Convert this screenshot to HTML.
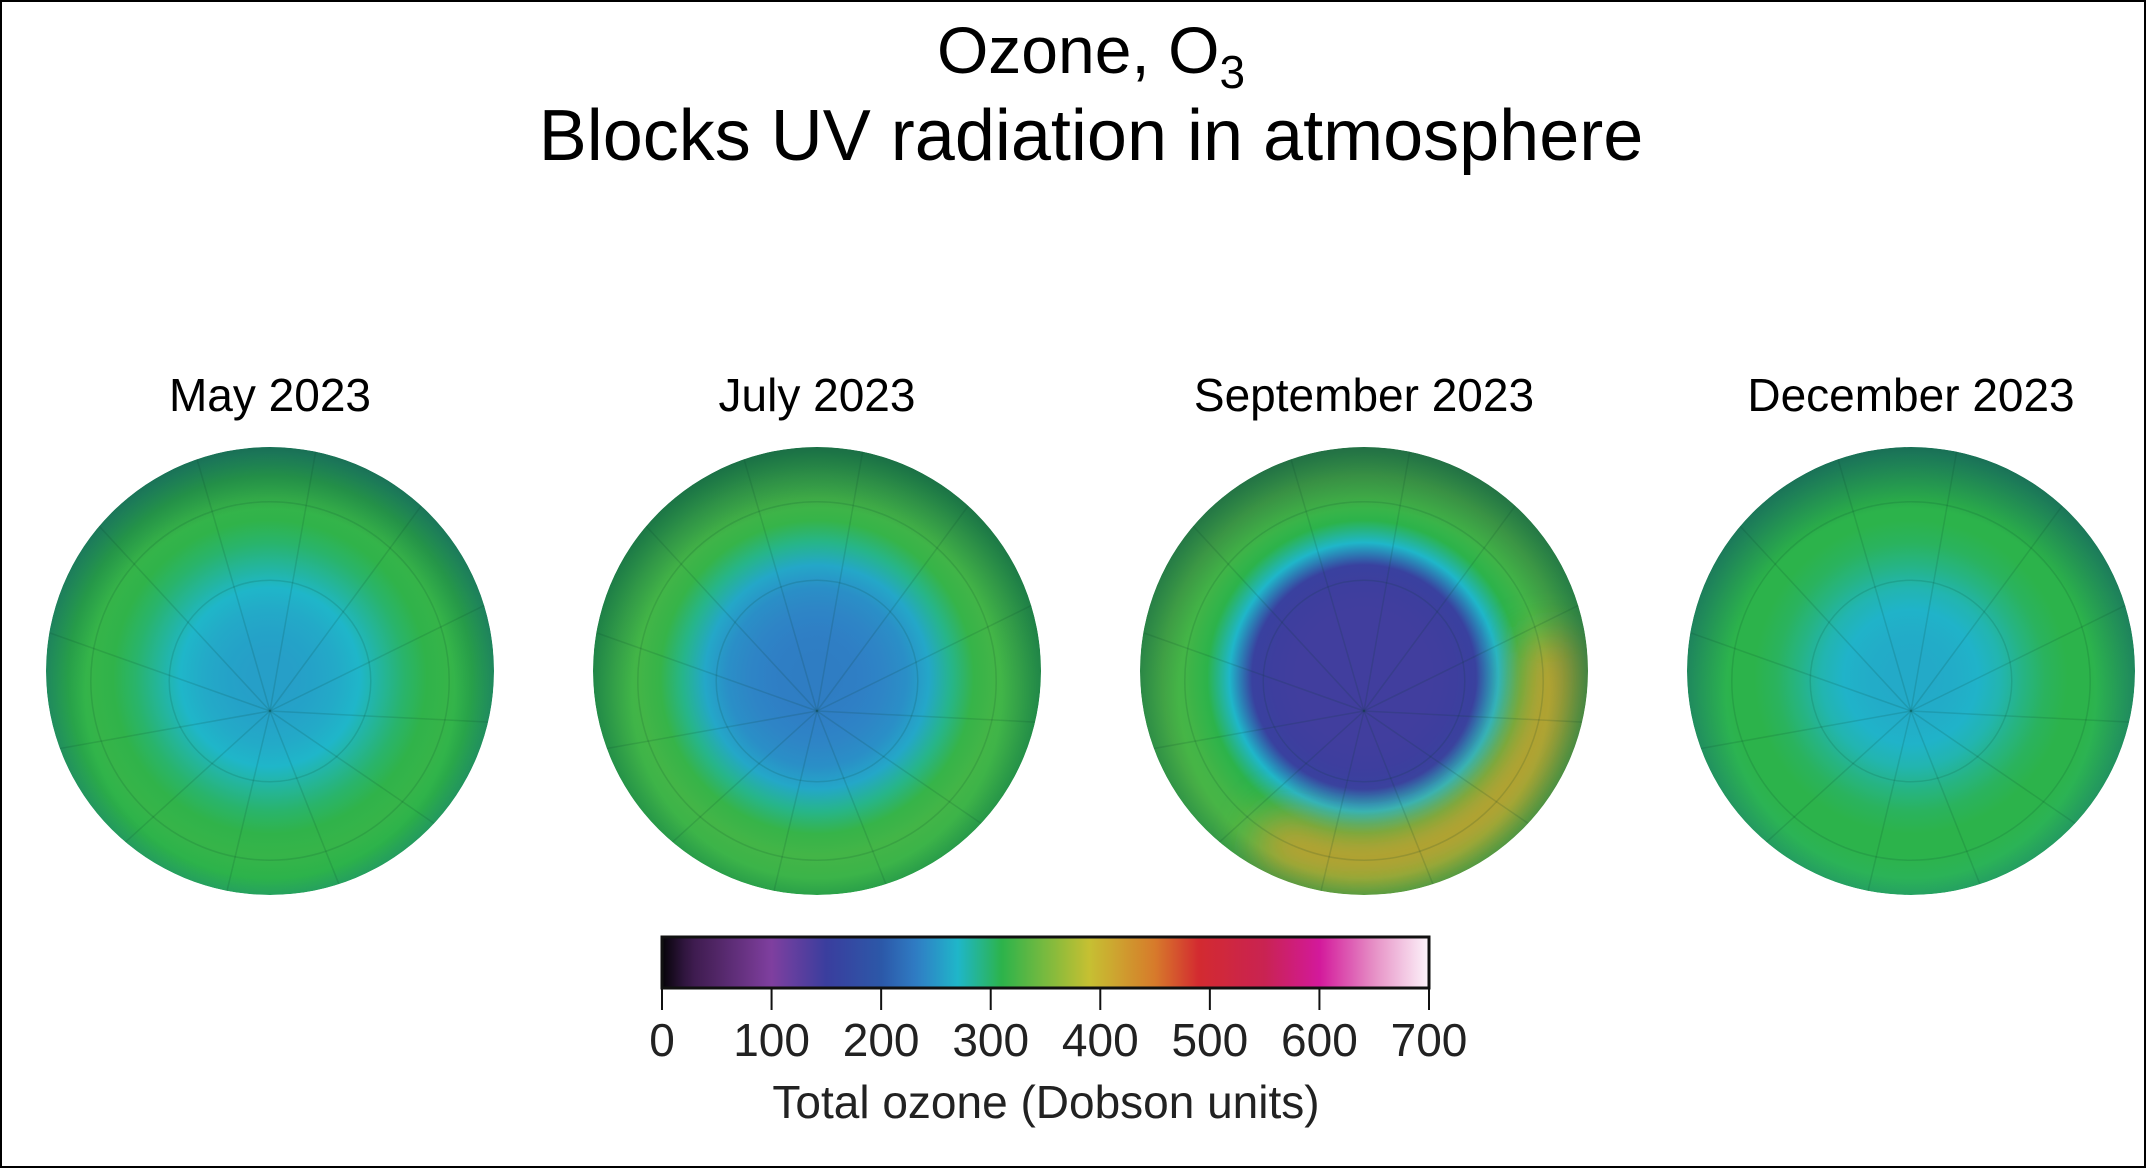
<!DOCTYPE html>
<html><head><meta charset="utf-8"><style>
html,body{margin:0;padding:0;background:#fff}
#root{position:relative;width:2146px;height:1168px;box-sizing:border-box;border:2px solid #000;overflow:hidden;font-family:"Liberation Sans",Arial,sans-serif;color:#111}
</style></head><body>
<div id="root">
<svg id="svg" width="2142" height="1164" viewBox="2 2 2142 1164">
<text x="1091" y="73" font-size="66" text-anchor="middle">Ozone, O<tspan font-size="46" dy="15">3</tspan></text>
<text x="1091" y="160" font-size="72" text-anchor="middle">Blocks UV radiation in atmosphere</text>
<defs id="defs">
<filter id="blur" filterUnits="userSpaceOnUse" x="1000" y="300" width="800" height="800"><feGaussianBlur stdDeviation="20"/></filter>
</defs>
<g id="globes"></g>
<g id="cbar"></g>
</svg>
</div>
<script>
const months = ["May 2023","July 2023","September 2023","December 2023"];
// radial ozone profile (DU) from pole (center) to outer edge, evenly spaced rings
const mayProfile = [255,255,258,262,270,285,300,312,315,310,300];
const julProfile = [232,232,234,238,245,260,290,315,322,318,310];
const sepProfile = [145,145,145,145,147,155,270,310,322,325,318];
const decProfile = [262,262,264,268,278,292,304,310,310,306,300];
const profiles = [mayProfile,julProfile,sepProfile,decProfile];
const cbTicks = [0,100,200,300,400,500,600,700];
const cmapVals = [0,25,100,150,200,235,270,310,390,450,490,550,600,650,700];
const cmapCols = ["#050308","#3a1a4a","#7f3f9f","#3a3e9e","#2c58a8","#2f80c6","#1fb6c9","#2cb34b","#c6c032","#d77a2b","#d32a30","#c92352","#d3199b","#e690c6","#fdf4fa"];

const NS="http://www.w3.org/2000/svg";
function hex(c){return [1,3,5].map(i=>parseInt(c.substr(i,2),16));}
function cmap(v){
  v=Math.max(0,Math.min(700,v));
  for(let i=0;i<cmapVals.length-1;i++){
    if(v<=cmapVals[i+1]){const t=(v-cmapVals[i])/(cmapVals[i+1]-cmapVals[i]);
      const a=hex(cmapCols[i]),b=hex(cmapCols[i+1]);
      return "rgb("+a.map((x,k)=>Math.round(x+(b[k]-x)*t)).join(",")+")";}
  }
  return cmapCols[cmapCols.length-1];
}
function mk(tag,attrs,parent){const e=document.createElementNS(NS,tag);for(const k in attrs)e.setAttribute(k,attrs[k]);parent.appendChild(e);return e;}
const defs=document.getElementById('defs'),G=document.getElementById('globes'),CB=document.getElementById('cbar');
const x0=270,dx=547,cy=671,R=224;
months.forEach((m,i)=>{
  const cx=x0+dx*i;
  const g=mk('g',{},G);
  
  
  const lab=mk('text',{x:cx,y:411,'font-size':46,'text-anchor':'middle'},g);
  
  
  lab.textContent=m;
  const cp=mk('clipPath',{id:'cp'+i},defs);
  mk('circle',{cx:cx,cy:cy,r:R},cp);
  const inner=mk('g',{'clip-path':'url(#cp'+i+')'},g);
  const gr=mk('radialGradient',{id:'rg'+i,gradientUnits:'userSpaceOnUse',cx:cx,cy:cy+6,r:R},defs);
  const p=profiles[i];
  p.forEach((v,k)=>mk('stop',{offset:(k/(p.length-1)).toFixed(3),'stop-color':cmap(v)},gr));
  const disc=mk('circle',{cx:cx,cy:cy,r:R,fill:'url(#rg'+i+')'},inner);
  
  
  if(i===2){
    const hot=mk('path',{d:`M ${cx-R*0.45} ${cy+R*0.72} A ${R*0.85} ${R*0.85} 0 0 0 ${cx+R*0.82} ${cy-R*0.15}`,fill:'none',stroke:cmap(420),'stroke-width':55,'stroke-opacity':0.9,filter:'url(#blur)'},inner);
    
    
  }
  const vg=mk('radialGradient',{id:'vg'+i,cx:'0.5',cy:'0.55',r:'0.55'},defs);
  mk('stop',{offset:'0.75','stop-color':'#0a2a40','stop-opacity':'0'},vg);
  mk('stop',{offset:'1','stop-color':'#0a2a40','stop-opacity':'0.5'},vg);
  mk('circle',{cx:cx,cy:cy,r:R,fill:'url(#vg'+i+')'},inner);
  const gl=mk('g',{stroke:'#0a3a2a','stroke-opacity':'0.15','stroke-width':1.5,fill:'none'},inner);
  
  
  [0.45,0.8].forEach(f=>mk('circle',{cx:cx,cy:cy+10,r:R*f},gl));
  for(let a=0;a<12;a++){const t=a*Math.PI/6+0.2;mk('line',{x1:cx,y1:cy+40,x2:cx+R*1.2*Math.cos(t),y2:cy+R*1.2*Math.sin(t)},gl);}
});
// colorbar
const bx=662,bw=767,by=937,bh=51;
const sx=v=>bx+v/700*bw;
const lg=mk('linearGradient',{id:'cbg',x1:'0',x2:'1',y1:'0',y2:'0'},defs);
for(let v=0;v<=700;v+=10)mk('stop',{offset:(v/700).toFixed(4),'stop-color':cmap(v)},lg);
const rect=mk('rect',{x:bx,y:by,width:bw,height:bh,fill:'url(#cbg)',stroke:'#111','stroke-width':3},CB);


cbTicks.forEach(v=>{
  mk('line',{x1:sx(v),y1:by+bh,x2:sx(v),y2:by+bh+22,stroke:'#111','stroke-width':2},CB);
  const t=mk('text',{x:sx(v),y:1056,'font-size':46,'text-anchor':'middle',fill:'#222'},CB);
  
  
  t.textContent=v;
});
const at=mk('text',{x:1046,y:1118,'font-size':46,'text-anchor':'middle',fill:'#222'},CB);


at.textContent='Total ozone (Dobson units)';
</script>
</body></html>
